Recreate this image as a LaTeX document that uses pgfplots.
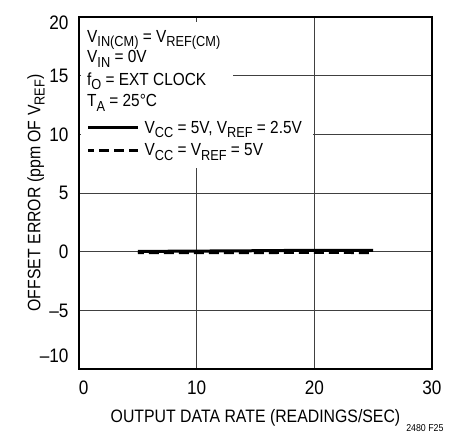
\documentclass[border=0pt]{standalone}
\usepackage{fontspec}
\setmainfont{Liberation Sans}[FakeStretch=0.88]
\usepackage{pgfplots}
\pgfplotsset{compat=1.18}
\newcommand{\sub}[1]{\raisebox{-0.45ex}{\fontsize{14.5}{15}\selectfont #1}}
\newcommand{\txt}{\fontsize{17.5}{19}\selectfont}
\begin{document}
\begin{tikzpicture}
\begin{axis}[
  name=ax,
  scale only axis,
  width=353pt, height=352pt,
  xmin=0, xmax=30, ymin=-10, ymax=20,
  xtick={0,10,20,30},
  xticklabels={\makebox[0pt][l]{0},10,20,30},
  ytick={-10,-5,0,5,10,15,20},
  yticklabels={\raisebox{13pt}{--10},--5,0,5,10,15,\raisebox{-6pt}{20}},
  /pgf/number format/assume math mode=true,
  tick style={draw=none},
  grid=major,
  grid style={black!75, line width=0.8pt},
  axis line style={black, line width=1.4pt},
  ticklabel style={font=\fontsize{19.5}{20}\selectfont},
  xticklabel style={anchor=base, yshift=-26pt},
  yticklabel style={anchor=base east, xshift=-7pt, yshift=-7pt},
  xlabel={OUTPUT DATA RATE (READINGS/SEC)},
  ylabel={OFFSET ERROR (ppm OF V\sub{REF})},
  label style={font=\fontsize{18}{19}\selectfont},
  xlabel style={at={(rel axis cs:0.5,0)}, anchor=base, yshift=-54pt},
  ylabel style={at={([xshift=-43pt]rel axis cs:0,0.5)}, anchor=center},
  legend cell align=left,
  legend style={at={(axis cs:0.55,11.4)}, anchor=north west, draw=none,
    fill=white, inner sep=1pt, row sep=5pt,
    font=\txt},
  legend image code/.code={\draw[#1] (0pt,0pt) -- (50pt,0pt);},
]
\addplot[black, line width=3pt] coordinates {
  (5,0.02) (10,0.05) (15,0.08) (20,0.12) (25,0.1)
};
\addlegendentry{\hspace*{3pt}V\sub{CC} = 5V, V\sub{REF} = 2.5V}
\addplot[black, line width=2.5pt, dash pattern=on 10pt off 5pt, dash phase=4pt] coordinates {
  (5,-0.1) (10,-0.1) (15,-0.1) (20,-0.08) (25,-0.1)
};
\addlegendentry{\hspace*{3pt}V\sub{CC} = V\sub{REF} = 5V}
\fill[white] (axis cs:0.15,19.6) rectangle (axis cs:13.05,11.65);
\fill[white] (axis cs:0.15,11.65) rectangle (axis cs:19.88,7.15);
\node[anchor=base west, inner sep=0pt, font=\txt] at (axis cs:0.68,17.85) {V\sub{IN(CM)} = V\sub{REF(CM)}};
\node[anchor=base west, inner sep=0pt, font=\txt] at (axis cs:0.68,16.08) {V\sub{IN} = 0V};
\node[anchor=base west, inner sep=0pt, font=\txt] at (axis cs:0.68,14.2) {f\sub{O} = EXT CLOCK};
\node[anchor=base west, inner sep=0pt, font=\txt] at (axis cs:0.68,12.33) {T\sub{A} = 25°C};
\end{axis}
\node[anchor=base east, font=\fontsize{10}{11}\selectfont] at ([xshift=15pt,yshift=-63pt]ax.south east) {2480 F25};
\pgfresetboundingbox
\path ([xshift=-79pt,yshift=-65pt]ax.south west) rectangle ([xshift=27pt,yshift=17pt]ax.north east);
\end{tikzpicture}
\end{document}
